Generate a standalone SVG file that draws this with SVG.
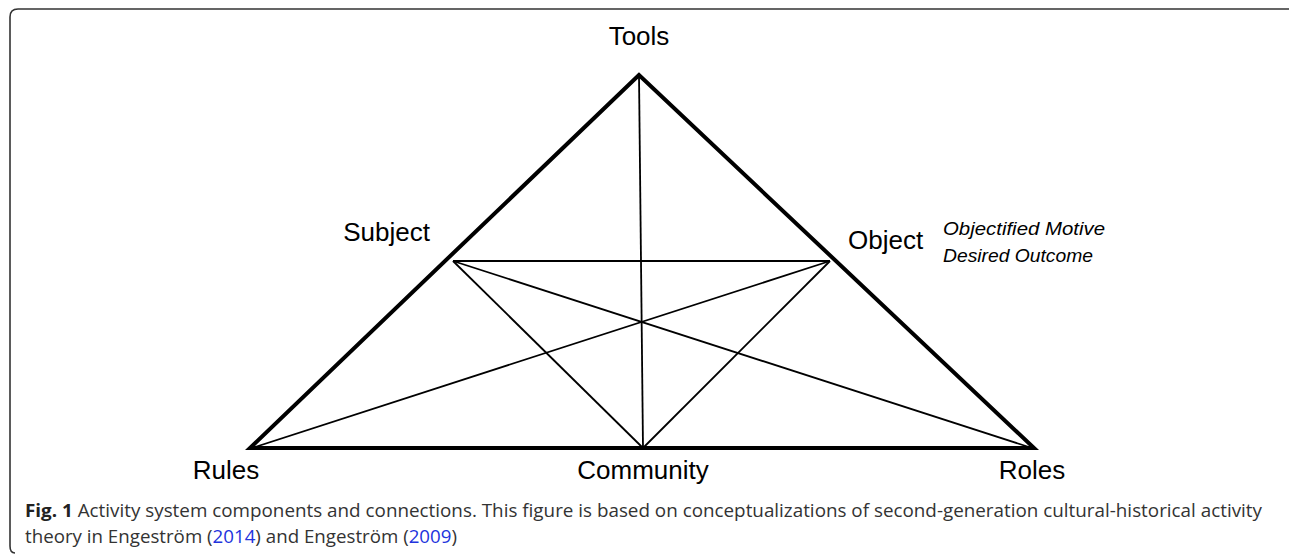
<svg xmlns="http://www.w3.org/2000/svg" width="1290" height="555" viewBox="0 0 1290 555">
<style>
.lbl{font-family:"Liberation Sans",Arial,sans-serif;font-size:26px;fill:#000}
.it{font-family:"Liberation Sans",Arial,sans-serif;font-size:19px;font-style:italic;fill:#000}
.cap{font-family:"Open Sans","Noto Sans",sans-serif;font-size:18px;fill:#333}
.thick{stroke:#000;stroke-width:4;fill:none;stroke-linejoin:miter}
.thin{stroke:#000;stroke-width:1.8;fill:none}
.frame{stroke:#333;stroke-width:1.6;fill:none}
.link{fill:#2233dd}
</style>
<rect width="1290" height="555" fill="#fff"/>
<path class="frame" d="M1289 9 H18 Q10 9 10 17 V546 Q10 553 15 553"/>
<g id="connectors">
<path class="thin" d="M639 75 L643 448"/>
<path class="thin" d="M453 261 L830 261"/>
<path class="thin" d="M453 261 L643 448"/>
<path class="thin" d="M830 261 L643 448"/>
<path class="thin" d="M252 448 L830 261"/>
<path class="thin" d="M453 261 L1032 448"/>
</g>
<g id="triangle">
<path class="thick" d="M639 75 L250 448 L1034 448 Z"/>
</g>
<g id="tools"><text class="lbl" x="639" y="45" text-anchor="middle">Tools</text></g>
<g id="subject"><text class="lbl" x="430" y="241" text-anchor="end">Subject</text></g>
<g id="object"><text class="lbl" x="848" y="249">Object</text>
<text class="it" x="943" y="235" textLength="162" lengthAdjust="spacingAndGlyphs">Objectified Motive</text>
<text class="it" x="943" y="262" textLength="150" lengthAdjust="spacingAndGlyphs">Desired Outcome</text></g>
<g id="rules"><text class="lbl" x="226" y="479" text-anchor="middle">Rules</text></g>
<g id="community"><text class="lbl" x="643" y="479" text-anchor="middle">Community</text></g>
<g id="roles"><text class="lbl" x="1032" y="479" text-anchor="middle">Roles</text></g>
<g id="caption">
<text class="cap" x="25" y="517" textLength="1237" lengthAdjust="spacingAndGlyphs"><tspan font-weight="bold" fill="#222">Fig. 1</tspan> Activity system components and connections. This figure is based on conceptualizations of second-generation cultural-historical activity</text>
<text class="cap" x="25" y="543" textLength="432" lengthAdjust="spacingAndGlyphs">theory in Engeström (<tspan class="link">2014</tspan>) and Engeström (<tspan class="link">2009</tspan>)</text>
</g>
</svg>
